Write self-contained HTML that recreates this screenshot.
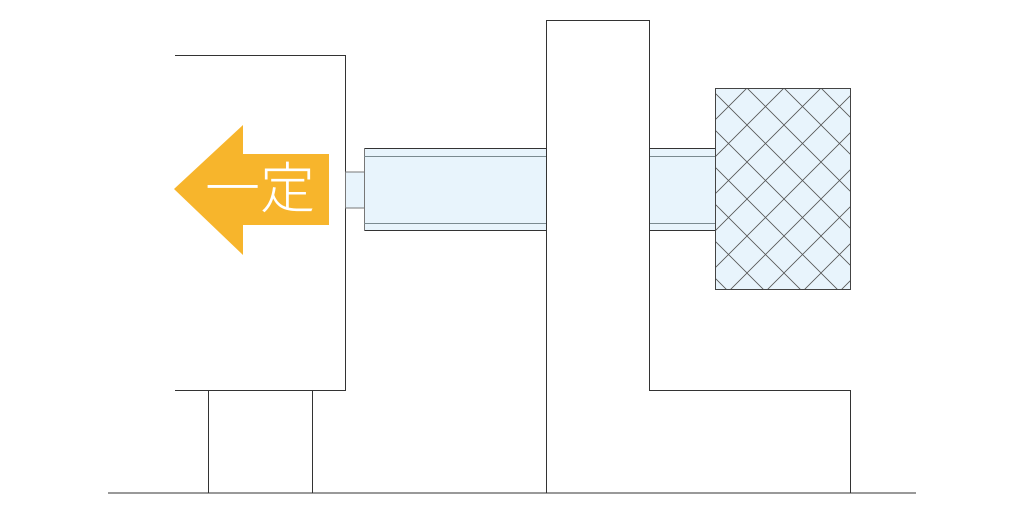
<!DOCTYPE html>
<html><head><meta charset="utf-8"><style>html,body{margin:0;padding:0;background:#fff;}</style></head>
<body>
<svg width="1024" height="512" viewBox="0 0 1024 512" xmlns="http://www.w3.org/2000/svg">
<defs>
<pattern id="h" patternUnits="userSpaceOnUse" x="747" y="88" width="37" height="37">
<path d="M0,0 L37,37 M37,0 L0,37" stroke="#555" stroke-width="0.8" fill="none"/>
</pattern>
</defs>
<g fill="none" stroke="#333" stroke-width="1">
<line x1="108" y1="493" x2="916" y2="493"/>
<polyline points="175,55.5 345.5,55.5 345.5,390.5 175,390.5"/>
<line x1="208.5" y1="390" x2="208.5" y2="493"/>
<line x1="312.5" y1="390" x2="312.5" y2="493"/>
<polyline points="546.5,493 546.5,20.5 649.5,20.5 649.5,390.5 850.5,390.5 850.5,493"/>
</g>
<rect x="345.5" y="172" width="19" height="36" fill="#e8f4fc" stroke="#777"/>
<rect x="364" y="148.5" width="182" height="82" fill="#e8f4fc"/>
<line x1="364" y1="148.5" x2="546" y2="148.5" stroke="#333"/>
<line x1="364" y1="230.5" x2="546" y2="230.5" stroke="#333"/>
<line x1="364.5" y1="148" x2="364.5" y2="231" stroke="#777"/>
<line x1="364" y1="156.5" x2="546" y2="156.5" stroke="#7a8a90"/>
<line x1="364" y1="223.5" x2="546" y2="223.5" stroke="#7a8a90"/>
<rect x="650" y="148.5" width="65" height="82" fill="#e8f4fc"/>
<line x1="650" y1="148.5" x2="715" y2="148.5" stroke="#333"/>
<line x1="650" y1="230.5" x2="715" y2="230.5" stroke="#333"/>
<line x1="650" y1="156.5" x2="715" y2="156.5" stroke="#7a8a90"/>
<line x1="650" y1="223.5" x2="715" y2="223.5" stroke="#7a8a90"/>
<rect x="715.5" y="88.5" width="135" height="201" fill="#e8f4fc"/>
<rect x="715.5" y="88.5" width="135" height="201" fill="url(#h)" stroke="#444"/>
<polygon points="174,189 243,125 243,154 329,154 329,225 243,225 243,255" fill="#f7b52c"/>
<text x="260" y="208" font-family="'Noto Sans CJK JP',sans-serif" font-weight="300" font-size="55" fill="#fff" text-anchor="middle">一定</text>
</svg>
</body></html>
